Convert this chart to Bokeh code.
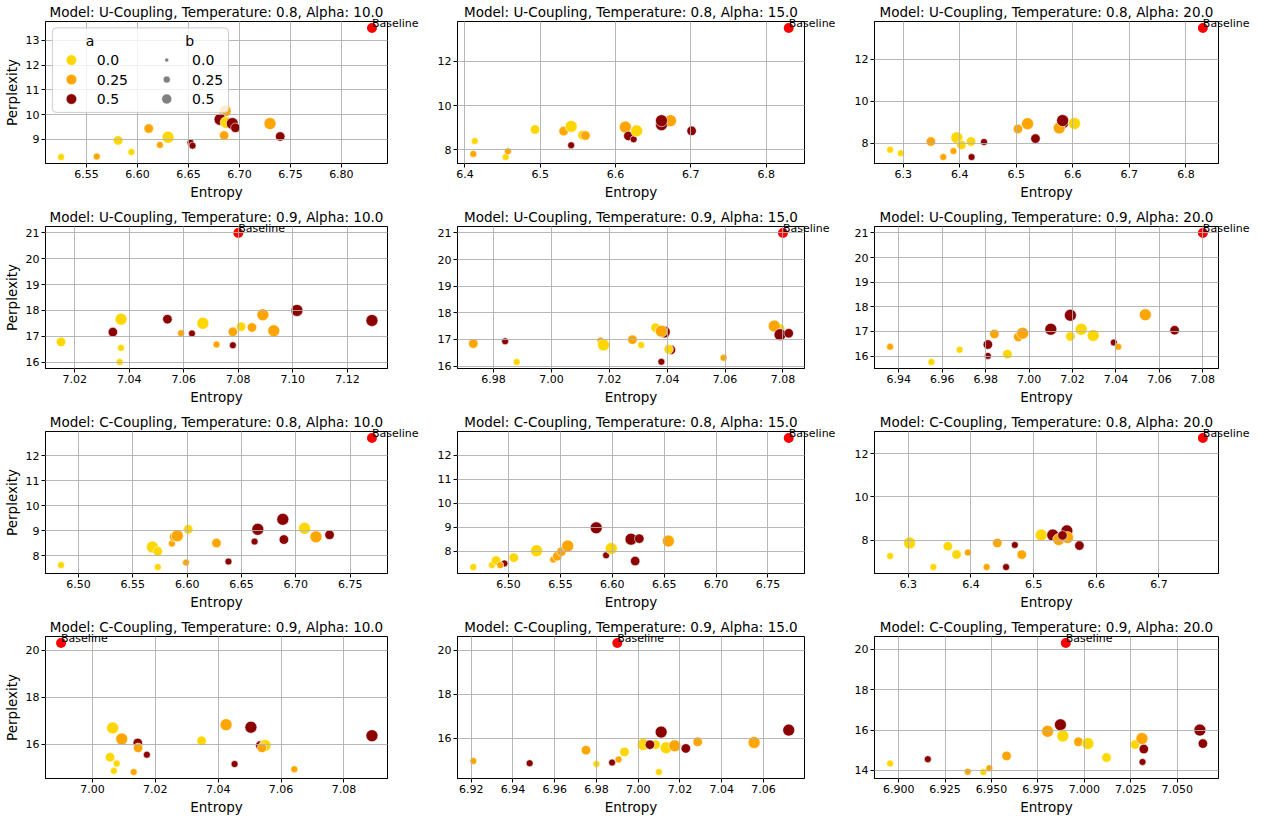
from bokeh.plotting import figure
from bokeh.layouts import gridplot
from bokeh.models import (ColumnDataSource, Range1d, FixedTicker, Label,
                          CategoricalColorMapper, LinearInterpolator)
from bokeh.transform import transform
from bokeh.core.properties import value
from bokeh.embed import file_html
from bokeh.resources import INLINE

FONT = "DejaVu Sans"

# ---------------- data ----------------
MODELS = ["U-Coupling", "U-Coupling", "U-Coupling", "U-Coupling", "U-Coupling", "U-Coupling",
          "C-Coupling", "C-Coupling", "C-Coupling", "C-Coupling", "C-Coupling", "C-Coupling"]
TEMPS = ["0.8", "0.8", "0.8", "0.9", "0.9", "0.9", "0.8", "0.8", "0.8", "0.9", "0.9", "0.9"]
ALPHAS = ["10.0", "15.0", "20.0", "10.0", "15.0", "20.0", "10.0", "15.0", "20.0", "10.0", "15.0", "20.0"]

BASE_ENT = [6.83, 6.83, 6.83, 7.08, 7.08, 7.08, 6.77, 6.77, 6.77, 6.99, 6.99, 6.99]
BASE_PPL = [13.5, 13.5, 13.5, 21.0, 21.0, 21.0, 12.72, 12.72, 12.72, 20.32, 20.32, 20.32]

U08_A10_ENT = [6.525, 6.560, 6.581, 6.594, 6.611, 6.622, 6.630, 6.652, 6.654, 6.685, 6.686, 6.681, 6.687, 6.693, 6.696, 6.730, 6.740]
U08_A10_PPL = [8.29, 8.31, 8.96, 8.49, 9.44, 8.78, 9.09, 8.88, 8.75, 9.16, 10.15, 9.81, 9.68, 9.64, 9.47, 9.64, 9.12]
U08_A10_A = [0.0, 0.25, 0.0, 0.0, 0.25, 0.25, 0.0, 0.5, 0.5, 0.25, 0.25, 0.5, 0.0, 0.5, 0.5, 0.25, 0.5]
U08_A10_B = [0.0, 0.0, 0.25, 0.0, 0.25, 0.0, 0.5, 0.0, 0.0, 0.25, 0.5, 0.5, 0.5, 0.5, 0.25, 0.5, 0.25]

U08_A15_ENT = [6.413, 6.411, 6.454, 6.457, 6.493, 6.531, 6.541, 6.541, 6.556, 6.560, 6.613, 6.617, 6.624, 6.628, 6.673, 6.661, 6.661, 6.701]
U08_A15_PPL = [8.40, 7.82, 7.68, 7.94, 8.92, 8.85, 9.06, 8.21, 8.67, 8.65, 9.03, 8.63, 8.48, 8.86, 9.32, 9.14, 9.32, 8.86]
U08_A15_A = [0.0, 0.25, 0.0, 0.25, 0.0, 0.25, 0.0, 0.5, 0.0, 0.25, 0.25, 0.5, 0.5, 0.0, 0.25, 0.5, 0.5, 0.5]
U08_A15_B = [0.0, 0.0, 0.0, 0.0, 0.25, 0.25, 0.5, 0.0, 0.25, 0.25, 0.5, 0.25, 0.0, 0.5, 0.5, 0.5, 0.5, 0.25]

U08_A20_ENT = [6.277, 6.296, 6.349, 6.371, 6.389, 6.395, 6.403, 6.420, 6.421, 6.443, 6.503, 6.520, 6.534, 6.584, 6.576, 6.582, 6.603]
U08_A20_PPL = [7.69, 7.52, 8.08, 7.34, 7.63, 8.26, 7.92, 8.08, 7.34, 8.06, 8.68, 8.93, 8.22, 8.93, 8.73, 9.08, 8.94]
U08_A20_A = [0.0, 0.0, 0.25, 0.25, 0.25, 0.0, 0.0, 0.0, 0.5, 0.5, 0.25, 0.25, 0.5, 0.5, 0.25, 0.5, 0.0]
U08_A20_B = [0.0, 0.0, 0.25, 0.0, 0.0, 0.5, 0.25, 0.25, 0.0, 0.0, 0.25, 0.5, 0.25, 0.25, 0.5, 0.5, 0.5]

U09_A10_ENT = [7.015, 7.034, 7.037, 7.037, 7.0365, 7.054, 7.059, 7.063, 7.067, 7.072, 7.078, 7.078, 7.081, 7.085, 7.089, 7.093, 7.1015, 7.129]
U09_A10_PPL = [16.78, 17.16, 17.66, 16.55, 16.00, 17.66, 17.12, 17.11, 17.50, 16.68, 17.17, 16.65, 17.37, 17.34, 17.83, 17.21, 18.00, 17.61]
U09_A10_A = [0.0, 0.5, 0.0, 0.0, 0.0, 0.5, 0.25, 0.5, 0.0, 0.25, 0.25, 0.5, 0.0, 0.25, 0.25, 0.25, 0.5, 0.5]
U09_A10_B = [0.25, 0.25, 0.5, 0.0, 0.0, 0.25, 0.0, 0.0, 0.5, 0.0, 0.25, 0.0, 0.25, 0.25, 0.5, 0.5, 0.5, 0.5]

U09_A15_ENT = [6.973, 6.984, 6.988, 7.017, 7.018, 7.028, 7.031, 7.036, 7.039, 7.038, 7.038, 7.0413, 7.0405, 7.0595, 7.079, 7.077, 7.079, 7.082]
U09_A15_PPL = [16.84, 16.93, 16.15, 16.96, 16.79, 16.99, 16.79, 17.44, 17.28, 17.31, 16.16, 16.61, 16.63, 16.31, 17.41, 17.50, 17.18, 17.23]
U09_A15_A = [0.25, 0.5, 0.0, 0.25, 0.0, 0.25, 0.0, 0.0, 0.5, 0.25, 0.5, 0.5, 0.0, 0.25, 0.0, 0.25, 0.5, 0.5]
U09_A15_B = [0.25, 0.0, 0.0, 0.0, 0.5, 0.25, 0.0, 0.25, 0.5, 0.5, 0.0, 0.25, 0.25, 0.0, 0.25, 0.5, 0.5, 0.25]

U09_A20_ENT = [6.936, 6.955, 6.968, 6.981, 6.981, 6.984, 6.990, 6.995, 6.997, 7.010, 7.019, 7.019, 7.024, 7.0295, 7.039, 7.041, 7.0535, 7.067]
U09_A20_PPL = [16.38, 15.76, 16.26, 16.47, 16.01, 16.90, 16.08, 16.78, 16.93, 17.09, 17.66, 16.80, 17.09, 16.84, 16.55, 16.38, 17.68, 17.05]
U09_A20_A = [0.25, 0.0, 0.0, 0.5, 0.5, 0.25, 0.0, 0.25, 0.25, 0.5, 0.5, 0.0, 0.0, 0.0, 0.5, 0.25, 0.25, 0.5]
U09_A20_B = [0.0, 0.0, 0.0, 0.25, 0.0, 0.25, 0.25, 0.25, 0.5, 0.5, 0.5, 0.25, 0.5, 0.5, 0.0, 0.0, 0.5, 0.25]

C08_A10_ENT = [6.484, 6.568, 6.573, 6.573, 6.586, 6.588, 6.591, 6.601, 6.599, 6.627, 6.638, 6.662, 6.665, 6.688, 6.689, 6.708, 6.7185, 6.731]
C08_A10_PPL = [7.63, 8.35, 8.18, 7.55, 8.49, 8.76, 8.80, 9.06, 7.73, 8.51, 7.77, 8.57, 9.06, 9.46, 8.65, 9.10, 8.76, 8.84]
C08_A10_A = [0.0, 0.0, 0.0, 0.0, 0.25, 0.25, 0.25, 0.0, 0.25, 0.25, 0.5, 0.5, 0.5, 0.5, 0.5, 0.0, 0.25, 0.5]
C08_A10_B = [0.0, 0.5, 0.25, 0.0, 0.0, 0.25, 0.5, 0.25, 0.0, 0.25, 0.0, 0.0, 0.5, 0.5, 0.25, 0.5, 0.5, 0.25]

C08_A15_ENT = [6.466, 6.484, 6.488, 6.496, 6.492, 6.505, 6.527, 6.543, 6.547, 6.551, 6.557, 6.5845, 6.594, 6.599, 6.618, 6.626, 6.622, 6.654]
C08_A15_PPL = [7.35, 7.43, 7.62, 7.50, 7.43, 7.74, 8.03, 7.66, 7.80, 7.99, 8.23, 8.98, 7.84, 8.12, 8.51, 8.53, 7.60, 8.43]
C08_A15_A = [0.0, 0.0, 0.0, 0.5, 0.25, 0.0, 0.0, 0.25, 0.25, 0.25, 0.25, 0.5, 0.5, 0.0, 0.5, 0.5, 0.5, 0.25]
C08_A15_B = [0.0, 0.0, 0.25, 0.0, 0.0, 0.25, 0.5, 0.0, 0.25, 0.25, 0.5, 0.5, 0.0, 0.5, 0.5, 0.25, 0.25, 0.5]

C08_A20_ENT = [6.271, 6.302, 6.340, 6.363, 6.377, 6.395, 6.425, 6.442, 6.470, 6.456, 6.481, 6.512, 6.5305, 6.553, 6.540, 6.554, 6.546, 6.573]
C08_A20_PPL = [7.27, 7.87, 6.76, 7.72, 7.34, 7.43, 6.76, 7.87, 7.78, 6.76, 7.33, 8.24, 8.24, 8.43, 8.03, 8.12, 8.22, 7.75]
C08_A20_A = [0.0, 0.0, 0.0, 0.0, 0.0, 0.25, 0.25, 0.25, 0.5, 0.5, 0.25, 0.0, 0.5, 0.5, 0.25, 0.25, 0.5, 0.5]
C08_A20_B = [0.0, 0.5, 0.0, 0.25, 0.25, 0.0, 0.0, 0.25, 0.0, 0.0, 0.25, 0.5, 0.5, 0.5, 0.5, 0.5, 0.25, 0.25]

C09_A10_ENT = [7.0056, 7.0064, 7.0077, 7.0068, 7.0093, 7.0144, 7.0145, 7.0173, 7.0131, 7.0347, 7.0425, 7.0452, 7.0504, 7.0534, 7.0549, 7.0539, 7.0642, 7.0889]
C09_A10_PPL = [15.45, 16.70, 15.18, 14.87, 16.23, 16.06, 15.85, 15.56, 14.82, 16.15, 16.84, 15.16, 16.73, 15.95, 15.95, 15.85, 14.94, 16.37]
C09_A10_A = [0.0, 0.0, 0.0, 0.0, 0.25, 0.5, 0.25, 0.5, 0.25, 0.0, 0.25, 0.5, 0.5, 0.5, 0.0, 0.25, 0.25, 0.5]
C09_A10_B = [0.25, 0.5, 0.0, 0.0, 0.5, 0.25, 0.25, 0.0, 0.0, 0.25, 0.5, 0.0, 0.5, 0.25, 0.5, 0.25, 0.0, 0.5]

C09_A15_ENT = [6.921, 6.948, 6.975, 6.980, 6.9875, 6.9906, 6.9934, 7.0024, 7.0083, 7.0056, 7.011, 7.0134, 7.0175, 7.0228, 7.0099, 7.0285, 7.0555, 7.0721]
C09_A15_PPL = [14.97, 14.87, 15.46, 14.84, 14.90, 15.04, 15.38, 15.72, 15.71, 15.71, 16.28, 15.57, 15.66, 15.54, 14.47, 15.84, 15.81, 16.37]
C09_A15_A = [0.25, 0.5, 0.25, 0.0, 0.5, 0.25, 0.0, 0.0, 0.0, 0.5, 0.5, 0.0, 0.25, 0.5, 0.0, 0.25, 0.25, 0.5]
C09_A15_B = [0.0, 0.0, 0.25, 0.0, 0.0, 0.0, 0.25, 0.5, 0.25, 0.25, 0.5, 0.5, 0.5, 0.25, 0.0, 0.25, 0.5, 0.5]

C09_A20_ENT = [6.8954, 6.9157, 6.9372, 6.9456, 6.9488, 6.9581, 6.9802, 6.9871, 6.9884, 6.9968, 7.0019, 7.0119, 7.0272, 7.031, 7.032, 7.0313, 7.0622, 7.0638]
C09_A20_PPL = [14.34, 14.56, 13.94, 13.92, 14.11, 14.72, 15.94, 16.26, 15.71, 15.42, 15.33, 14.64, 15.28, 15.58, 15.06, 14.42, 16.00, 15.33]
C09_A20_A = [0.0, 0.5, 0.25, 0.0, 0.25, 0.25, 0.25, 0.5, 0.0, 0.25, 0.0, 0.0, 0.0, 0.25, 0.5, 0.5, 0.5, 0.5]
C09_A20_B = [0.0, 0.0, 0.0, 0.0, 0.0, 0.25, 0.5, 0.5, 0.5, 0.25, 0.5, 0.25, 0.25, 0.5, 0.25, 0.0, 0.5, 0.25]

X_TICK_LABELS = [
    ["6.55", "6.60", "6.65", "6.70", "6.75", "6.80"],
    ["6.4", "6.5", "6.6", "6.7", "6.8"],
    ["6.3", "6.4", "6.5", "6.6", "6.7", "6.8"],
    ["7.02", "7.04", "7.06", "7.08", "7.10", "7.12"],
    ["6.98", "7.00", "7.02", "7.04", "7.06", "7.08"],
    ["6.94", "6.96", "6.98", "7.00", "7.02", "7.04", "7.06", "7.08"],
    ["6.50", "6.55", "6.60", "6.65", "6.70", "6.75"],
    ["6.50", "6.55", "6.60", "6.65", "6.70", "6.75"],
    ["6.3", "6.4", "6.5", "6.6", "6.7"],
    ["7.00", "7.02", "7.04", "7.06", "7.08"],
    ["6.92", "6.94", "6.96", "6.98", "7.00", "7.02", "7.04", "7.06"],
    ["6.900", "6.925", "6.950", "6.975", "7.000", "7.025", "7.050"],
]
Y_TICK_LABELS = [
    ["9", "10", "11", "12", "13"],
    ["8", "10", "12"],
    ["8", "10", "12"],
    ["16", "17", "18", "19", "20", "21"],
    ["16", "17", "18", "19", "20", "21"],
    ["16", "17", "18", "19", "20", "21"],
    ["8", "9", "10", "11", "12"],
    ["8", "9", "10", "11", "12"],
    ["8", "10", "12"],
    ["16", "18", "20"],
    ["16", "18", "20"],
    ["14", "16", "18", "20"],
]

A_FACTORS = ["0.0", "0.25", "0.5"]
A_PALETTE = ["#FFD700", "#FFA500", "#8B0000"]
B_LEVELS = [0.0, 0.25, 0.5]

PANELS = [
    (U08_A10_ENT, U08_A10_PPL, U08_A10_A, U08_A10_B),
    (U08_A15_ENT, U08_A15_PPL, U08_A15_A, U08_A15_B),
    (U08_A20_ENT, U08_A20_PPL, U08_A20_A, U08_A20_B),
    (U09_A10_ENT, U09_A10_PPL, U09_A10_A, U09_A10_B),
    (U09_A15_ENT, U09_A15_PPL, U09_A15_A, U09_A15_B),
    (U09_A20_ENT, U09_A20_PPL, U09_A20_A, U09_A20_B),
    (C08_A10_ENT, C08_A10_PPL, C08_A10_A, C08_A10_B),
    (C08_A15_ENT, C08_A15_PPL, C08_A15_A, C08_A15_B),
    (C08_A20_ENT, C08_A20_PPL, C08_A20_A, C08_A20_B),
    (C09_A10_ENT, C09_A10_PPL, C09_A10_A, C09_A10_B),
    (C09_A15_ENT, C09_A15_PPL, C09_A15_A, C09_A15_B),
    (C09_A20_ENT, C09_A20_PPL, C09_A20_A, C09_A20_B),
]

# ---------------- styles ----------------
WIDTHS = [434, 417, 414]
MIN_LEFT = [42, 22, 23]
MIN_RIGHT = [47, 47, 47]
HEIGHT = 205
MIN_TOP = 18
MIN_BOTTOM = 42

color_mapper = CategoricalColorMapper(factors=A_FACTORS, palette=A_PALETTE)
size_map = LinearInterpolator(x=[0.0, 0.5], y=[7.0, 12.0])
legend_size_map = LinearInterpolator(x=[0.0, 0.5], y=[4.0, 10.0])

# legend layout (fractions of the first panel's frame)
LEG_BOX = dict(left=0.02, right=0.535, bottom=0.36, top=0.955)
LEG_HEAD_Y = 0.865
LEG_ROWS_Y = [0.728, 0.591, 0.454]
LEG_A_MARK_X, LEG_A_TEXT_X, LEG_A_HEAD_X = 0.0758, 0.150, 0.1305
LEG_B_MARK_X, LEG_B_TEXT_X, LEG_B_HEAD_X = 0.3545, 0.4285, 0.4216


def fmt(v):
    return f"{float(v)}"


def add_legend(p):
    p.extra_x_ranges = {"lg": Range1d(0, 1)}
    p.extra_y_ranges = {"lg": Range1d(0, 1)}
    kw = dict(x_range_name="lg", y_range_name="lg", level="overlay")
    p.quad(left=[LEG_BOX["left"]], right=[LEG_BOX["right"]], bottom=[LEG_BOX["bottom"]],
           top=[LEG_BOX["top"]], fill_color="white", fill_alpha=0.8, line_color="#cccccc",
           line_width=1, border_radius=4, **kw)
    tkw = dict(text_font=value(FONT), text_font_size=value("14px"), text_color="black", **kw)
    p.text(x=[LEG_A_HEAD_X, LEG_B_HEAD_X], y=[LEG_HEAD_Y, LEG_HEAD_Y], text=["a", "b"],
           text_align="center", text_baseline="middle", **tkw)
    asrc = ColumnDataSource(dict(x=[LEG_A_MARK_X] * 3, y=LEG_ROWS_Y, a=A_FACTORS,
                                 tx=[LEG_A_TEXT_X] * 3, lab=A_FACTORS))
    p.scatter("x", "y", source=asrc, size=10.5, marker="circle",
              fill_color=transform("a", color_mapper), line_color="white", line_width=0.5, **kw)
    p.text("tx", "y", text="lab", source=asrc, text_align="left", text_baseline="middle", **tkw)
    bsrc = ColumnDataSource(dict(x=[LEG_B_MARK_X] * 3, y=LEG_ROWS_Y, b=B_LEVELS,
                                 tx=[LEG_B_TEXT_X] * 3, lab=[fmt(v) for v in B_LEVELS]))
    p.scatter("x", "y", source=bsrc, size=transform("b", legend_size_map), marker="circle",
              fill_color="#808080", line_color="white", line_width=0.5, **kw)
    p.text("tx", "y", text="lab", source=bsrc, text_align="left", text_baseline="middle", **tkw)


figs = []
for i, (ent, ppl, a, b) in enumerate(PANELS):
    row, col = divmod(i, 3)
    bx, by = BASE_ENT[i], BASE_PPL[i]
    xs = list(ent) + [bx]
    ys = list(ppl) + [by]
    dx = (max(xs) - min(xs)) * 0.05
    dy = (max(ys) - min(ys)) * 0.05
    p = figure(width=WIDTHS[col], height=HEIGHT,
               x_range=Range1d(min(xs) - dx, max(xs) + dx),
               y_range=Range1d(min(ys) - dy, max(ys) + dy),
               output_backend="svg", toolbar_location=None,
               min_border_left=MIN_LEFT[col], min_border_right=MIN_RIGHT[col],
               min_border_top=MIN_TOP, min_border_bottom=MIN_BOTTOM,
               title=f"Model: {MODELS[i]}, Temperature: {TEMPS[i]}, Alpha: {ALPHAS[i]}")
    p.background_fill_color = "white"
    p.border_fill_color = "white"
    p.outline_line_color = "black"
    p.outline_line_width = 1
    p.outline_line_alpha = 1

    p.title.text_font = FONT
    p.title.text_font_size = "13.5px"
    p.title.text_font_style = "normal"
    p.title.text_color = "black"
    p.title.align = "center"
    p.title.standoff = 3

    xt = [float(s) for s in X_TICK_LABELS[i]]
    yt = [float(s) for s in Y_TICK_LABELS[i]]
    p.xaxis.ticker = FixedTicker(ticks=xt)
    p.yaxis.ticker = FixedTicker(ticks=yt)
    p.xgrid.ticker = FixedTicker(ticks=xt)
    p.ygrid.ticker = FixedTicker(ticks=yt)
    p.xaxis.major_label_overrides = {float(s): s for s in X_TICK_LABELS[i]}
    p.yaxis.major_label_overrides = {float(s): s for s in Y_TICK_LABELS[i]}

    for ax in (p.xaxis, p.yaxis):
        ax.major_label_text_font = FONT
        ax.major_label_text_font_size = "11px"
        ax.major_label_text_color = "black"
        ax.major_label_standoff = 2
        ax.major_tick_out = 4
        ax.major_tick_in = 0
        ax.minor_tick_out = 0
        ax.minor_tick_in = 0
        ax.major_tick_line_color = "black"
        ax.axis_line_color = "black"
        ax.axis_label_text_font = FONT
        ax.axis_label_text_font_size = "13.5px"
        ax.axis_label_text_font_style = "normal"
        ax.axis_label_text_color = "black"
        ax.axis_label_standoff = 3
    p.xaxis.axis_label = "Entropy"
    if col == 0:
        p.yaxis.axis_label = "Perplexity"

    p.grid.grid_line_color = "#b0b0b0"
    p.grid.grid_line_width = 0.9
    p.grid.level = "guide"

    src = ColumnDataSource(dict(x=ent, y=ppl, a=[fmt(v) for v in a], b=b))
    p.scatter("x", "y", source=src, marker="circle", size=transform("b", size_map),
              fill_color=transform("a", color_mapper), line_color="white", line_width=0.6)

    bsrc = ColumnDataSource(dict(x=[bx], y=[by]))
    p.scatter("x", "y", source=bsrc, marker="circle", size=10, fill_color="red", line_color=None)
    # placed in a side panel so that the text is not clipped at the frame edge
    p.add_layout(Label(x=bx, y=by, x_units="data", y_units="data", text="Baseline",
                       text_font=FONT, text_font_size="11px", text_color="black",
                       text_align="left", text_baseline="alphabetic", y_offset=4), "right")

    if i == 0:
        add_legend(p)
    figs.append(p)

grid = gridplot([figs[0:3], figs[3:6], figs[6:9], figs[9:12]], toolbar_location=None)

open("out.html", "w").write(file_html(grid, INLINE))
